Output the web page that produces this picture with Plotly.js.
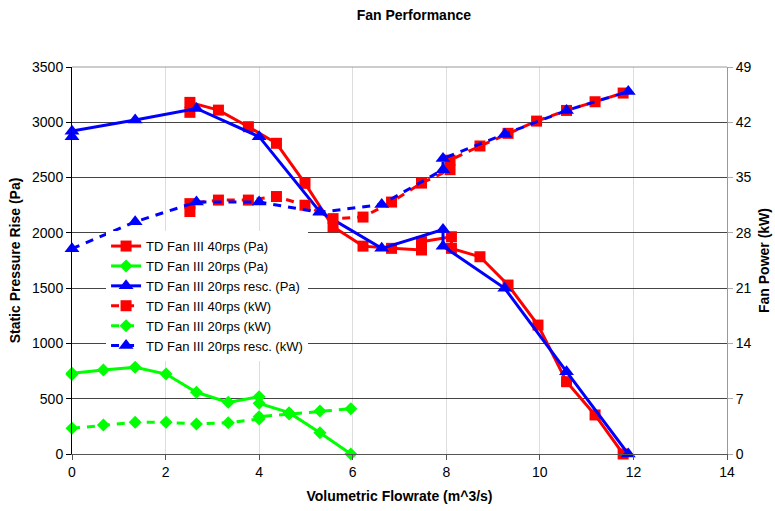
<!DOCTYPE html>
<html>
<head>
<meta charset="utf-8">
<script src="https://cdn.plot.ly/plotly-3.0.1.min.js"></script>
<style>html,body{margin:0;padding:0;background:#fff;}#chart{width:775px;height:511px;}</style>
</head>
<body>
<div id="chart"></div>
<script>
// ---- Data ----
var names = ["TD Fan III 40rps (Pa)", "TD Fan III 20rps (Pa)", "TD Fan III 20rps resc. (Pa)",
             "TD Fan III 40rps (kW)", "TD Fan III 20rps (kW)", "TD Fan III 20rps resc. (kW)"];

var fan40PaX = [2.52, 2.52, 3.13, 3.77, 4.37, 4.98, 5.58, 6.22, 6.83, 7.47, 7.47, 8.11, 8.11, 8.72, 9.32, 9.96, 10.57, 11.18, 11.78];
var fan40PaY = [3090, 3180, 3110, 2960, 2810, 2448, 2055, 1880, 1860, 1845, 1920, 1965, 1860, 1784, 1528, 1166, 654, 353, 0];

var fan20PaX = [0, 0, 0.67, 1.35, 2.01, 2.66, 3.34, 4.0, 4.0, 4.64, 5.3, 5.96];
var fan20PaY = [718, 730, 760, 784, 723, 558, 467, 518, 458, 374, 193, 0];

var fan20rPaX = [0, 0, 1.35, 2.66, 4.0, 5.3, 6.62, 7.93, 7.93, 9.25, 10.57, 11.89];
var fan20rPaY = [2870, 2920, 3020, 3125, 2870, 2190, 1860, 2030, 1880, 1498, 744, 0];

var fan40kWX = [2.52, 2.52, 3.13, 3.77, 4.37, 4.98, 5.58, 6.22, 6.83, 7.47, 8.08, 8.08, 8.72, 9.32, 9.93, 10.57, 11.18, 11.78];
var fan40kWY = [30.7, 31.7, 32.15, 32.15, 32.6, 31.5, 29.8, 30.0, 31.9, 34.3, 36.0, 37.2, 39.0, 40.6, 42.15, 43.5, 44.6, 45.7];

var fan20kWX = [0, 0.67, 1.35, 2.01, 2.66, 3.34, 4.0, 4.0, 4.64, 5.3, 5.96];
var fan20kWY = [3.25, 3.67, 4.01, 4.01, 3.80, 3.96, 4.43, 4.72, 5.06, 5.44, 5.73];

var fan20rkWX = [0, 1.35, 2.66, 4.0, 5.3, 6.62, 7.93, 7.93, 9.25, 10.57, 11.89];
var fan20rkWY = [26.0, 29.4, 31.9, 31.9, 30.6, 31.6, 36.0, 37.4, 40.5, 43.5, 45.9];

var xTicks = [0, 2, 4, 6, 8, 10, 12, 14];
var yTicks = [0, 500, 1000, 1500, 2000, 2500, 3000, 3500];
var y2Ticks = [0, 7, 14, 21, 28, 35, 42, 49];

// ---- Styles ----
var RED = "#ff0000", GREEN = "#00ff00", BLUE = "#0000ff";
var FONT = "Liberation Sans, Arial, Helvetica, sans-serif";
var DASH = "8px,7px";

function tr(x, y, name, color, symbol, size, dash, axis) {
  return {
    x: x, y: y, name: name, type: "scatter", mode: "lines+markers",
    yaxis: axis,
    line: {color: color, width: 3, dash: dash},
    marker: {color: color, symbol: symbol, size: size},
    cliponaxis: false
  };
}

var data = [
  tr(fan40PaX, fan40PaY, names[0], RED, "square", 11, "solid", "y"),
  tr(fan20PaX, fan20PaY, names[1], GREEN, "diamond", 10, "solid", "y"),
  tr(fan20rPaX, fan20rPaY, names[2], BLUE, "triangle-up", 13, "solid", "y"),
  tr(fan40kWX, fan40kWY, names[3], RED, "square", 11, DASH, "y2"),
  tr(fan20kWX, fan20kWY, names[4], GREEN, "diamond", 10, DASH, "y2"),
  tr(fan20rkWX, fan20rkWY, names[5], BLUE, "triangle-up", 13, DASH, "y2")
];

var layout = {
  width: 775, height: 511,
  margin: {l: 72, r: 48, t: 67, b: 57, pad: 0},
  paper_bgcolor: "#ffffff", plot_bgcolor: "#ffffff",
  font: {family: FONT, size: 14, color: "#000"},
  title: {text: "<b>Fan Performance</b>", font: {family: FONT, size: 14, color: "#000"},
          x: 0.534, xanchor: "center", xref: "container", y: 0.97, yanchor: "middle", yref: "container"},
  showlegend: true,
  legend: {x: 0.052, y: 0.576, xanchor: "left", yanchor: "top",
           bgcolor: "#ffffff", borderwidth: 0, font: {family: FONT, size: 13, color: "#000"},
           tracegroupgap: 0},
  xaxis: {
    range: [0, 14], tickvals: xTicks, ticktext: xTicks.map(String),
    showgrid: true, gridcolor: "#dddddd", gridwidth: 1,
    zeroline: false, showline: true, linecolor: "#555", linewidth: 1,
    ticks: "outside", ticklen: 5, tickcolor: "#555",
    tickfont: {family: FONT, size: 14, color: "#000"},
    title: {text: "<b>Volumetric Flowrate (m^3/s)</b>", font: {family: FONT, size: 14, color: "#000"}, standoff: 12}
  },
  yaxis: {
    range: [0, 3500], tickvals: yTicks, ticktext: yTicks.map(String),
    showgrid: true, gridcolor: "#444", gridwidth: 1,
    zeroline: false, showline: true, linecolor: "#000", linewidth: 1,
    ticks: "outside", ticklen: 5, tickcolor: "#000",
    tickfont: {family: FONT, size: 14, color: "#000"},
    title: {text: "<b>Static Pressure Rise (Pa)</b>", font: {family: FONT, size: 14, color: "#000"}, standoff: 8}
  },
  yaxis2: {
    overlaying: "y", side: "right",
    range: [0, 49], tickvals: y2Ticks, ticktext: y2Ticks.map(String),
    showgrid: false, zeroline: false, showline: true, linecolor: "#999", linewidth: 1,
    ticks: "outside", ticklen: 5, tickcolor: "#aaa",
    tickfont: {family: FONT, size: 14, color: "#000"},
    title: {text: "<b>Fan Power (kW)</b>", font: {family: FONT, size: 14, color: "#000"}, standoff: 8}
  },
  shapes: [
    {type: "line", xref: "paper", yref: "paper", x0: 0, x1: 1, y0: 1, y1: 1,
     line: {color: "#999", width: 1}, layer: "above"}
  ]
};

Plotly.newPlot("chart", data, layout, {displayModeBar: false, staticPlot: true});
</script>
</body>
</html>
